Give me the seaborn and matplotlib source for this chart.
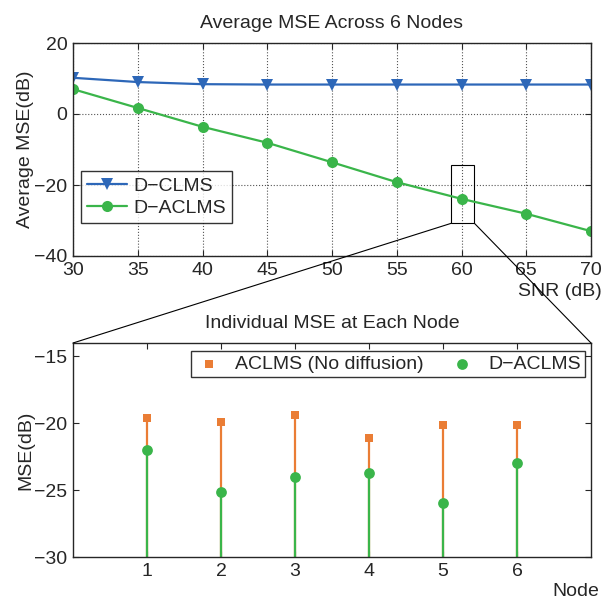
import matplotlib.pyplot as plt
import numpy as np
import pandas as pd
import seaborn as sns
from matplotlib.patches import Rectangle, ConnectionPatch
from matplotlib.lines import Line2D

# average MSE vs SNR
snr = [30, 35, 40, 45, 50, 55, 60, 65, 70]
mse_dclms = [10.2, 9.0, 8.4, 8.3, 8.3, 8.3, 8.3, 8.3, 8.3]
mse_daclms = [7.0, 1.7, -3.6, -8.1, -13.6, -19.2, -23.9, -28.1, -33.0]

# individual MSE at SNR = 60 dB
nodes = [1, 2, 3, 4, 5, 6]
mse_aclms_node = [-19.6, -19.9, -19.4, -21.1, -20.1, -20.1]
mse_daclms_node = [-22.0, -25.15, -24.0, -23.75, -25.95, -23.0]

BLUE = '#2d67b8'
GREEN = '#3ab54a'
ORANGE = '#ea7d35'
FS = 14

sns.set_style("ticks")
plt.rcParams['font.family'] = ['Liberation Sans', 'DejaVu Sans']
plt.rcParams['xtick.direction'] = 'in'
plt.rcParams['ytick.direction'] = 'in'

fig = plt.figure(figsize=(6.02, 6.01), dpi=100)
W, H = 602, 601
ax1 = fig.add_axes([73 / W, 1 - 256 / H, 518 / W, 213 / H])
ax2 = fig.add_axes([73 / W, 1 - 557 / H, 518 / W, 214 / H])

df = pd.DataFrame({'snr': snr + snr,
                   'mse': mse_dclms + mse_daclms,
                   'method': ['D-CLMS'] * len(snr) + ['D-ACLMS'] * len(snr)})
sns.lineplot(data=df, x='snr', y='mse', hue='method', style='method',
             markers={'D-CLMS': 'v', 'D-ACLMS': 'o'}, dashes=False,
             palette={'D-CLMS': BLUE, 'D-ACLMS': GREEN},
             markersize=8, markeredgewidth=0, linewidth=1.6, ax=ax1, legend=False)
ax1.set_xlim(30, 70)
ax1.set_ylim(-40, 20)
ax1.set_xticks(snr)
ax1.set_yticks([-40, -20, 0, 20])
ax1.grid(True, linestyle=':', color='#555555', linewidth=0.8)
ax1.tick_params(top=True, right=True, labelsize=FS, length=4, pad=4)
ax1.set_title('Average MSE Across 6 Nodes', fontsize=FS, pad=11)
ax1.set_ylabel('Average MSE(dB)', fontsize=FS, labelpad=0)
ax1.set_xlabel('')
ax1.text(1.021, -0.125, 'SNR (dB)', transform=ax1.transAxes, ha='right', va='top', fontsize=FS)
h1 = [Line2D([], [], color=BLUE, marker='v', markersize=8, markeredgewidth=0, lw=1.6),
      Line2D([], [], color=GREEN, marker='o', markersize=8, markeredgewidth=0, lw=1.6)]
leg1 = ax1.legend(h1, ['D\u2212CLMS', 'D\u2212ACLMS'], loc='lower left',
                  bbox_to_anchor=(0.015, 0.155),
                  fontsize=FS, frameon=True, fancybox=False, edgecolor='black',
                  handlelength=2.1, borderpad=0.3, labelspacing=0.25, handletextpad=0.3,
                  borderaxespad=0)
leg1.get_frame().set_linewidth(1.0)

# zoom rectangle and connecting lines
rect = Rectangle((59.2, -30.8), 1.8, 16.4, fill=False, edgecolor='black', linewidth=0.8)
ax1.add_patch(rect)
for xa, xb in [(59.2, 0), (61.0, 1)]:
    con = ConnectionPatch(xyA=(xa, -30.8), coordsA=ax1.transData,
                          xyB=(xb, 1), coordsB=ax2.transAxes,
                          color='black', linewidth=0.8)
    fig.add_artist(con)

# bottom stem plot
ax2.vlines(nodes, -30, mse_aclms_node, color=ORANGE, linewidth=1.6)
ax2.vlines(nodes, -30, mse_daclms_node, color=GREEN, linewidth=1.6)
sns.scatterplot(x=nodes, y=mse_aclms_node, marker='s', color=ORANGE, s=40,
                linewidth=0, ax=ax2, label='ACLMS (No diffusion)', zorder=3)
sns.scatterplot(x=nodes, y=mse_daclms_node, marker='o', color=GREEN, s=60,
                linewidth=0, ax=ax2, label='D\u2212ACLMS', zorder=3)
ax2.set_xlim(0, 7)
ax2.set_ylim(-30, -14)
ax2.set_xticks(nodes)
ax2.set_yticks([-30, -25, -20, -15])
ax2.tick_params(top=True, right=True, labelsize=FS, length=4, pad=4)
ax2.set_title('Individual MSE at Each Node', fontsize=FS, pad=11)
ax2.set_ylabel('MSE(dB)', fontsize=FS, labelpad=0)
ax2.text(1.015, -0.12, 'Node', transform=ax2.transAxes, ha='right', va='top', fontsize=FS)
leg2 = ax2.legend(loc='upper right', bbox_to_anchor=(0.988, 0.962), ncol=2, fontsize=FS,
                  frameon=True, fancybox=False, edgecolor='black', markerscale=1.0,
                  borderpad=0.2, handletextpad=0.6, columnspacing=1.2, handlelength=1.5,
                  borderaxespad=0)
leg2.get_frame().set_linewidth(1.0)

for ax in (ax1, ax2):
    for s in ax.spines.values():
        s.set_linewidth(1.0)
        s.set_visible(True)

fig.savefig('out.png', dpi=100)
